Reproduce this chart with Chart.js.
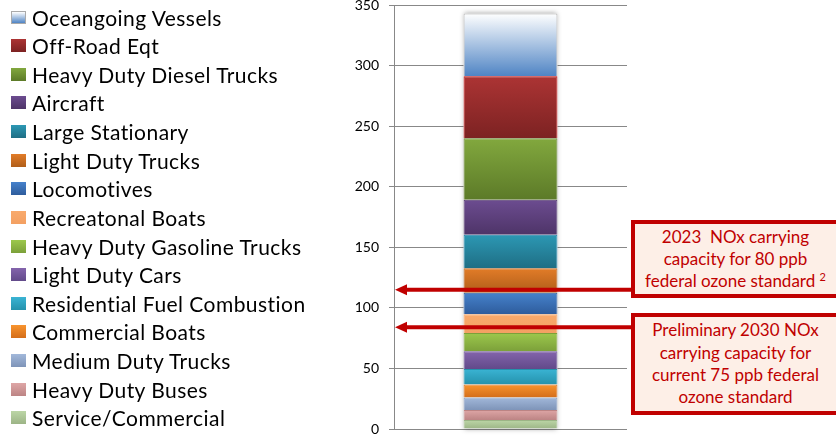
<!DOCTYPE html>
<html lang="en">
<head>
<meta charset="UTF-8" />
<title>NOx Emissions by Source</title>
<script src="https://cdn.jsdelivr.net/npm/chart.js"></script>
<style>
  body { margin: 0; width: 836px; height: 435px; overflow: hidden; background: #fff; font-family: Lato, sans-serif; position: relative; }
  #wrap { position: absolute; left: 0; top: 0; width: 836px; height: 435px; }
  #legend { position: absolute; left: 11px; top: 2.7px; }
  .item { display: flex; align-items: center; height: 28.64px; font-size: 21px; letter-spacing: 0.45px; color: #000; white-space: nowrap; }
  .sw { width: 15px; height: 13px; margin-right: 6px; flex: none; }
  .note { position: absolute; left: 631px; width: 209px; box-sizing: border-box; border: 4px solid #c00000; background: #fdefe7;
          color: #c00000; font-size: 17px; line-height: 22.3px; text-align: center; display: flex; flex-direction: column; justify-content: center; }
  .note sup { font-size: 11px; vertical-align: 6px; line-height: 0; }
</style>
</head>
<body>
  <div id="wrap"><canvas id="noxChart"></canvas></div>
  <div id="legend"></div>
  <div class="note" style="top:220px;height:78px;">
    <div>2023&nbsp; NOx carrying</div><div>capacity for 80 ppb</div><div>federal ozone standard <sup>2</sup></div>
  </div>
  <div class="note" style="top:313px;height:102px;">
    <div>Preliminary 2030 NOx</div><div>carrying capacity for</div><div>current 75 ppb federal</div><div>ozone standard</div>
  </div>

<script>
  // stack order: bottom first
  const sources = [
    "Service/Commercial", "Heavy Duty Buses", "Medium Duty Trucks", "Commercial Boats",
    "Residential Fuel Combustion", "Light Duty Cars", "Heavy Duty Gasoline Trucks", "Recreatonal Boats",
    "Locomotives", "Light Duty Trucks", "Large Stationary", "Aircraft",
    "Heavy Duty Diesel Trucks", "Off-Road Eqt", "Oceangoing Vessels"
  ];
  const emissions = [7.4, 8.2, 10.5, 10.7, 12.8, 14.6, 15.0, 15.6, 17.6, 20.3, 27.7, 28.8, 50.8, 51.2, 51.8];
  const capacityLevels = [115, 84];
  const yTicks = [0, 50, 100, 150, 200, 250, 300, 350];

  const topColors = [
    "#bcd6a6", "#dea6a6", "#a2b8da", "#f8942e", "#3ab4d4", "#8464ac", "#9cc84c", "#f9aa6c",
    "#4682cc", "#e27c28", "#2c98b4", "#6c4c90", "#82a83e", "#ac3434", "#ffffff"
  ];
  const bottomColors = [
    "#9cb486", "#bc8484", "#7e94b8", "#d46e1a", "#2592ac", "#624a8a", "#7ca03a", "#f3a062",
    "#2e5c9c", "#b05e1a", "#1f6e84", "#4e3468", "#5c7a28", "#7c2222", "#4f84c4"
  ];
  const borderColors = [
    "#9cb486", "#bc8484", "#7e94b8", "#d46e1a", "#2592ac", "#624a8a", "#7ca03a", "#f3a062",
    "#2e5c9c", "#b05e1a", "#2080a8", "#4e3468", "#5c7a28", "#c00000", "#aaaaaa"
  ];

  function segGradient(ctx) {
    const chart = ctx.chart;
    const y = chart.scales.y;
    const i = ctx.datasetIndex;
    if (!y || !chart.chartArea) return topColors[i];
    let base = 0;
    for (let k = 0; k < i; k++) base += emissions[k];
    const g = chart.ctx.createLinearGradient(0, y.getPixelForValue(base + emissions[i]), 0, y.getPixelForValue(base));
    g.addColorStop(0, topColors[i]);
    g.addColorStop(1, bottomColors[i]);
    return g;
  }

  const barHalo = {
    id: "barHalo",
    beforeDatasetsDraw(chart) {
      const first = chart.getDatasetMeta(0).data[0];
      const last = chart.getDatasetMeta(sources.length - 1).data[0];
      const c = chart.ctx;
      c.save();
      c.shadowColor = "rgba(0,0,0,0.35)";
      c.shadowBlur = 5;
      c.fillStyle = "#fff";
      c.fillRect(first.x - first.width / 2, last.y, first.width, first.base - last.y);
      c.restore();
    }
  };

  const capacityArrows = {
    id: "capacityArrows",
    afterDatasetsDraw(chart) {
      const c = chart.ctx;
      const tip = chart.chartArea.left + 1;
      c.save();
      c.strokeStyle = "#c00000";
      c.fillStyle = "#c00000";
      c.lineWidth = 4;
      capacityLevels.forEach(v => {
        const py = chart.scales.y.getPixelForValue(v);
        c.beginPath();
        c.moveTo(634, py);
        c.lineTo(tip + 10, py);
        c.stroke();
        c.beginPath();
        c.moveTo(tip, py);
        c.lineTo(tip + 12, py - 5.5);
        c.lineTo(tip + 12, py + 5.5);
        c.closePath();
        c.fill();
      });
      c.restore();
    }
  };

  const chart = new Chart(document.getElementById("noxChart"), {
    type: "bar",
    data: {
      labels: [""],
      datasets: sources.map((name, i) => ({
        label: name,
        data: [emissions[i]],
        backgroundColor: segGradient,
        borderColor: borderColors[i],
        borderWidth: 1,
        barPercentage: 0.403,
        categoryPercentage: 1
      }))
    },
    options: {
      responsive: true,
      maintainAspectRatio: false,
      animation: false,
      layout: { padding: { left: 334, right: 209, top: 5, bottom: 6 } },
      plugins: { legend: { display: false }, tooltip: { enabled: false } },
      scales: {
        x: { stacked: true, display: false },
        y: {
          stacked: true,
          min: 0,
          max: 350,
          afterBuildTicks: s => { s.ticks = yTicks.map(v => ({ value: v })); },
          afterFit: s => { s.width = 60; s.paddingTop = 0; s.paddingBottom = 0; },
          grid: { color: "#888", tickLength: 5 },
          border: { color: "#888" },
          ticks: { color: "#000", padding: 10, font: { family: "Lato", size: 14 } }
        }
      }
    },
    plugins: [barHalo, capacityArrows]
  });

  const legendBox = document.getElementById("legend");
  for (let i = sources.length - 1; i >= 0; i--) {
    const row = document.createElement("div");
    row.className = "item";
    row.innerHTML = `<span class="sw" style="background:linear-gradient(${topColors[i]}, ${bottomColors[i]});${i === sources.length - 1 ? 'border:1px solid #aaa;box-sizing:border-box;' : ''}"></span><span>${sources[i]}</span>`;
    legendBox.appendChild(row);
  }
</script>
</body>
</html>
